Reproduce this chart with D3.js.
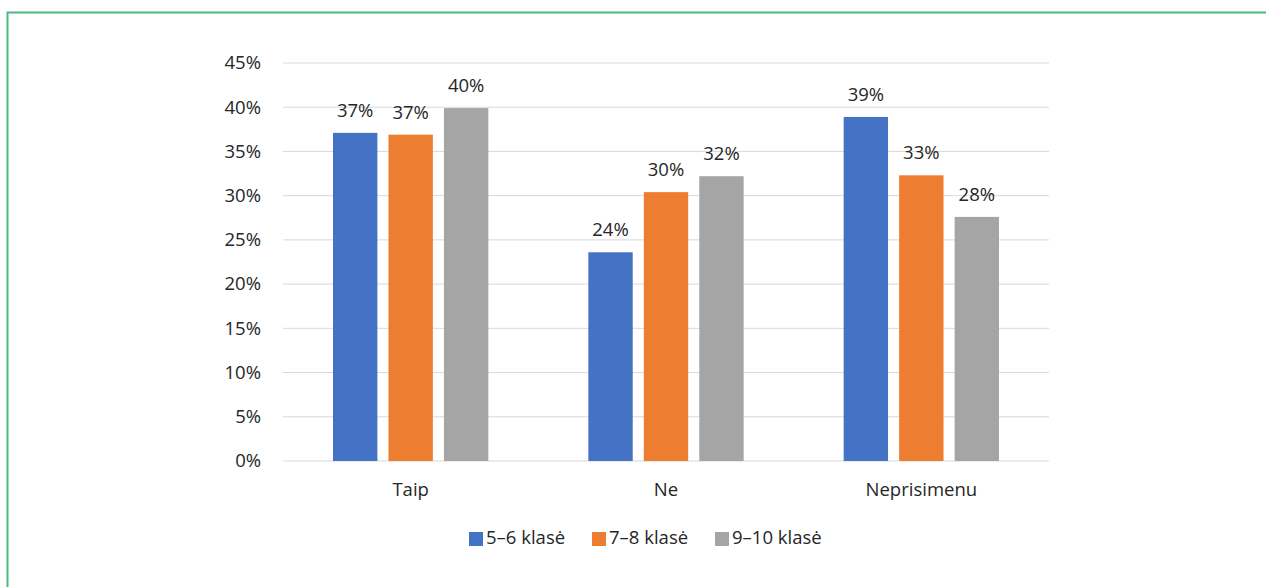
<!DOCTYPE html>
<html><head><meta charset="utf-8">
<script src="https://cdn.jsdelivr.net/npm/d3@7"></script>
<style>body{margin:0;background:#fff}svg{display:block}</style>
</head><body><svg id="c" width="1266" height="587"></svg>
<script>
const categories = ["Taip", "Ne", "Neprisimenu"];
const seriesNames = ["5–6 klasė", "7–8 klasė", "9–10 klasė"];
const s56 = [37.1, 23.6, 38.9];
const s78 = [36.9, 30.4, 32.3];
const s910 = [39.9, 32.2, 27.6];
const labels56 = ["37%", "24%", "39%"];
const labels78 = ["37%", "30%", "33%"];
const labels910 = ["40%", "32%", "28%"];
const yTicks = [0, 5, 10, 15, 20, 25, 30, 35, 40, 45];
const colors = ["#4472C4", "#ED7D31", "#A5A5A5"];

const series = [s56, s78, s910];
const seriesLabels = [labels56, labels78, labels910];
const font = "'Open Sans', sans-serif";
const fs = 18.5;
const svg = d3.select("#c");

svg.append("path").attr("d", "M7.5,587 L7.5,12.5 L1266,12.5")
  .attr("fill", "none").attr("stroke", "#4DB883").attr("stroke-width", 2);

const x0 = d3.scaleBand().domain(categories).range([283, 1049]);
const y = d3.scaleLinear().domain([0, 45]).range([461, 63]);
const x1 = d3.scaleBand().domain(d3.range(3)).range([50, x0.bandwidth() - 50]).paddingInner(0.2);

svg.append("g").selectAll("line").data(yTicks).join("line")
  .attr("x1", 283).attr("x2", 1049)
  .attr("y1", d => y(d)).attr("y2", d => y(d))
  .attr("stroke", "#D9D9D9").attr("stroke-width", 1);

svg.append("g").selectAll("text").data(yTicks).join("text")
  .attr("x", 261).attr("y", d => y(d) + 6.3)
  .attr("text-anchor", "end").attr("font-family", font).attr("font-size", fs).attr("fill", "#262626")
  .text(d => d + "%");

const g = svg.append("g");
series.forEach((s, si) => {
  g.selectAll(".b" + si).data(categories).join("rect")
    .attr("x", c => x0(c) + x1(si)).attr("width", x1.bandwidth())
    .attr("y", (c, i) => y(s[i])).attr("height", (c, i) => y(0) - y(s[i]))
    .attr("fill", colors[si]);
  g.selectAll(".l" + si).data(categories).join("text")
    .attr("x", c => x0(c) + x1(si) + x1.bandwidth() / 2)
    .attr("y", (c, i) => y(s[i]) - 16)
    .attr("text-anchor", "middle").attr("font-family", font).attr("font-size", fs).attr("fill", "#262626")
    .text((c, i) => seriesLabels[si][i]);
});

svg.append("g").selectAll("text").data(categories).join("text")
  .attr("x", c => x0(c) + x0.bandwidth() / 2).attr("y", 495.5)
  .attr("text-anchor", "middle").attr("font-family", font).attr("font-size", fs).attr("fill", "#262626")
  .text(c => c);

const legX = [469, 592, 715];
const leg = svg.append("g");
seriesNames.forEach((n, i) => {
  leg.append("rect").attr("x", legX[i]).attr("y", 532).attr("width", 14).attr("height", 14).attr("fill", colors[i]);
  leg.append("text").attr("x", legX[i] + 17).attr("y", 543.5)
    .attr("font-family", font).attr("font-size", fs).attr("fill", "#262626").text(n);
});
</script></body></html>
